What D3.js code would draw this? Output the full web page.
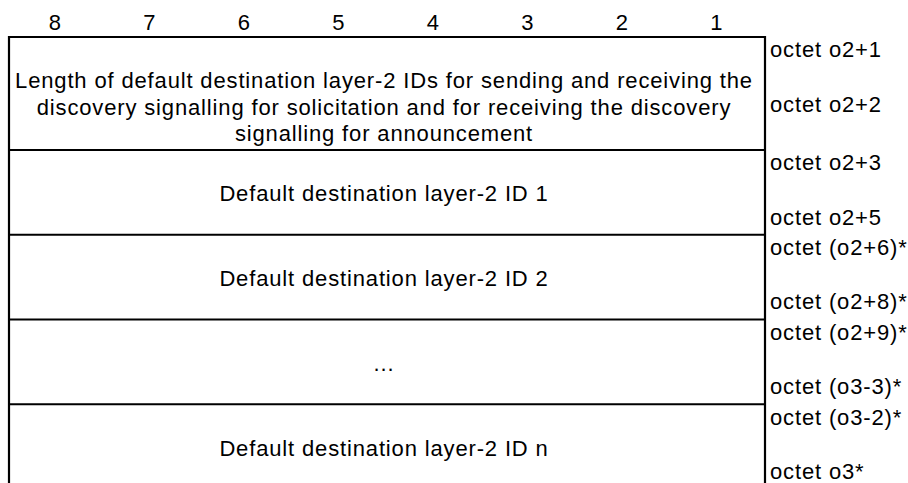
<!DOCTYPE html>
<html><head><meta charset="utf-8">
<script src="https://cdn.jsdelivr.net/npm/d3@7/dist/d3.min.js"></script>
<style>html,body{margin:0;padding:0;background:#fff;} svg{display:block;}</style>
</head><body>
<script>
const bitLabels = ["8","7","6","5","4","3","2","1"];
const fieldTexts = [
  ["Length of default destination layer-2 IDs for sending and receiving the",
   "discovery signalling for solicitation and for receiving the discovery",
   "signalling for announcement"],
  ["Default destination layer-2 ID 1"],
  ["Default destination layer-2 ID 2"],
  ["..."],
  ["Default destination layer-2 ID n"]
];
const fieldSpans = [4, 3, 3, 3, 3];
const octetTop = ["octet o2+1", "octet o2+3", "octet (o2+6)*", "octet (o2+9)*", "octet (o3-2)*"];
const octetBottom = ["octet o2+2", "octet o2+5", "octet (o2+8)*", "octet (o3-3)*", "octet o3*"];

const W = 908, H = 483;
const FS = 22;
const LS = 0.85;
const svg = d3.select("body").append("svg").attr("width", W).attr("height", H)
  .style("font-family", "'Liberation Sans', Arial, sans-serif").style("font-size", FS + "px")
  .style("letter-spacing", LS + "px");

const x = d3.scaleLinear().domain([0, 8]).range([9, 765]);
const starts = d3.cumsum([0].concat(fieldSpans)).slice(0, -1);
const total = d3.sum(fieldSpans);
const y = d3.scaleLinear().domain([0, total]).range([37, 489]);

// bit header
svg.selectAll("text.bit").data(bitLabels).join("text").attr("class", "bit")
  .attr("x", (d, i) => x(i + 0.5) - 1).attr("y", 30).attr("text-anchor", "middle").text(d => d);

// lines
const g = svg.append("g").attr("stroke", "#000").attr("stroke-width", 2.2).attr("fill", "none");
g.append("line").attr("x1", x(0)).attr("x2", x(0)).attr("y1", y(0) - 1).attr("y2", y(total));
g.append("line").attr("x1", x(8)).attr("x2", x(8)).attr("y1", y(0) - 1).attr("y2", y(total));
g.selectAll("line.h").data(starts).join("line").attr("class", "h")
  .attr("x1", x(0) - 1).attr("x2", x(8) + 1).attr("y1", d => y(d)).attr("y2", d => y(d));

// field texts
const rowG = svg.selectAll("g.row").data(fieldTexts).join("g").attr("class", "row");
rowG.each(function (lines, i) {
  const top = y(starts[i]), bot = y(starts[i] + fieldSpans[i]);
  const cy = (top + bot) / 2;
  const lh = 26.5;
  const first = lines.length > 1 ? top + 51 : cy + 9;
  d3.select(this).selectAll("text").data(lines).join("text")
    .attr("x", x(4) - 3).attr("y", (d, j) => first + j * lh)
    .attr("text-anchor", "middle").text(d => d);
});

// octet labels
svg.selectAll("text.ot").data(octetTop).join("text").attr("class", "ot")
  .attr("x", 770).attr("y", (d, i) => y(starts[i] + 0.72)).text(d => d);
svg.selectAll("text.ob").data(octetBottom).join("text").attr("class", "ob")
  .attr("x", 770).attr("y", (d, i) => y(starts[i] + 2.64)).text(d => d);
</script>
</body></html>
